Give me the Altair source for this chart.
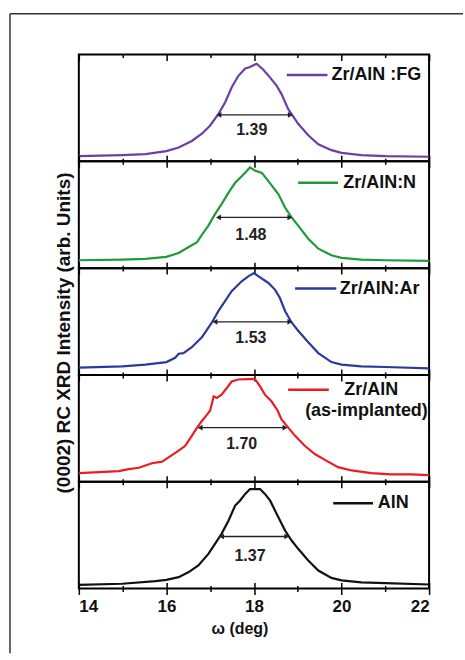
import altair as alt
import pandas as pd

# ---------------- data ----------------
SAMPLES = ["Zr/AlN :FG", "Zr/AlN:N", "Zr/AlN:Ar", "Zr/AlN (as-implanted)", "AlN"]
COLORS = ["#6B3FA6", "#1F9A3C", "#2C3A9C", "#EC1C24", "#111111"]

OMEGA_FG = [14.00, 14.99, 15.52, 16.00, 16.28, 16.58, 16.81, 17.00, 17.19, 17.34, 17.49, 17.64, 17.80, 17.91,
            18.06, 18.21, 18.37, 18.52, 18.63, 18.78, 19.01, 19.24, 19.47, 19.77, 20.00, 20.45, 21.00, 22.00]
INT_FG = [4.9, 5.9, 6.8, 9.6, 13.0, 19.1, 25.9, 33.6, 44.4, 55.2, 69.1, 79.9, 87.0, 88.3,
          91.4, 86.1, 78.4, 70.7, 63.0, 49.1, 35.2, 24.4, 16.0, 10.5, 8.0, 5.9, 4.9, 4.3]

OMEGA_N = [14.00, 14.99, 15.52, 16.00, 16.28, 16.51, 16.70, 16.85, 16.96, 17.11, 17.26, 17.42, 17.57, 17.72, 17.83,
           17.91, 18.02, 18.18, 18.33, 18.56, 18.71, 18.86, 19.01, 19.24, 19.47, 19.77, 20.00, 20.45, 21.00, 22.00]
INT_N = [7.4, 8.0, 8.6, 10.5, 14.2, 19.8, 24.4, 33.6, 39.8, 50.6, 59.9, 70.7, 79.9, 86.1, 90.7,
         94.4, 91.4, 89.2, 81.5, 69.1, 56.8, 47.5, 39.8, 27.5, 18.2, 12.0, 9.6, 8.0, 7.4, 6.8]

OMEGA_AR = [14.00, 14.99, 15.52, 16.00, 16.20, 16.28, 16.39, 16.58, 16.81, 17.04, 17.19, 17.34, 17.49, 17.72, 17.87,
            18.00, 18.14, 18.33, 18.48, 18.59, 18.71, 18.86, 19.01, 19.24, 19.47, 19.77, 20.00, 20.45, 21.00, 22.00]
INT_AR = [6.8, 8.0, 9.6, 12.0, 16.0, 19.8, 20.4, 25.9, 35.2, 49.1, 59.9, 69.1, 78.4, 87.7, 92.3,
          95.4, 91.4, 86.1, 79.9, 72.2, 59.9, 49.1, 41.4, 30.6, 20.4, 12.0, 9.6, 8.0, 7.4, 6.2]

OMEGA_AI = [14.00, 14.46, 14.91, 15.14, 15.37, 15.67, 15.90, 16.05, 16.28, 16.43, 16.58, 16.70, 16.81, 16.92, 17.00,
            17.08, 17.15, 17.26, 17.38, 17.49, 17.64, 17.87, 18.02, 18.14, 18.25, 18.40, 18.54, 18.63, 18.75, 18.94,
            19.16, 19.39, 19.62, 19.92, 20.23, 20.68, 21.14, 21.59, 22.00]
INT_AI = [8.0, 9.0, 9.9, 11.7, 13.0, 17.3, 18.8, 22.8, 29.0, 33.6, 42.9, 50.6, 56.8, 62.3, 66.7,
          79.9, 78.4, 81.5, 87.7, 93.8, 95.7, 96.0, 96.3, 89.2, 81.5, 75.3, 66.7, 58.3, 52.2, 42.9,
          33.6, 25.9, 20.4, 13.6, 10.5, 8.0, 6.8, 6.8, 6.2]

OMEGA_ALN = [14.00, 14.99, 15.75, 16.00, 16.28, 16.51, 16.73, 16.96, 17.11, 17.26, 17.42, 17.57, 17.68, 17.80, 17.91,
             18.14, 18.25, 18.37, 18.52, 18.71, 18.86, 19.01, 19.24, 19.47, 19.77, 20.00, 20.45, 21.00, 22.00]
INT_ALN = [3.4, 4.4, 6.9, 8.1, 10.6, 15.3, 21.5, 32.4, 41.7, 51.1, 63.6, 77.6, 82.2, 88.5, 93.1,
           93.1, 88.5, 82.2, 69.8, 54.2, 44.9, 37.1, 26.2, 16.8, 9.9, 7.5, 5.6, 5.0, 3.7]

OMEGAS = [OMEGA_FG, OMEGA_N, OMEGA_AR, OMEGA_AI, OMEGA_ALN]
INTENSITIES = [INT_FG, INT_N, INT_AR, INT_AI, INT_ALN]

FWHM_LABELS = ["1.39", "1.48", "1.53", "1.70", "1.37"]
ARROW_LEFT = [17.20, 17.19, 17.11, 16.77, 17.26]
ARROW_RIGHT = [18.83, 18.82, 18.82, 18.71, 18.75]
ARROW_LEVEL = [43.5, 47.5, 49.7, 50.6, 48.6]
LABEL_OMEGA = [17.95, 17.93, 17.93, 17.72, 17.91]
LABEL_LEVEL = [29.6, 30.6, 34.6, 35.2, 30.8]

# legend placement (in panel data units)
LEG_X1 = [18.75, 19.01, 18.94, 18.78, 19.81]
LEG_X2 = [19.68, 19.92, 19.88, 19.71, 20.72]
LEG_Y = [80.9, 79.9, 80.9, 86.1, 79.8]
LEG_TEXT = [["Zr/AlN :FG"], ["Zr/AlN:N"], ["Zr/AlN:Ar"], ["Zr/AlN", "(as-implanted)"], ["AlN"]]
LEG_TX = [[19.77], [20.04], [19.96], [20.68, 20.57], [20.83]]
LEG_TY = [[80.9], [79.9], [80.9], [86.1, 66.0], [79.8]]
LEG_ALIGN = ["left", "left", "left", "center", "left"]

Y_TITLE = "(0002) RC XRD Intensity (arb. Units)"
X_TITLE = "ω (deg)"
TICKS = list(range(14, 23))

FONT = "Liberation Sans"
W, H = 351, 107

xscale = alt.Scale(domain=[14, 22], nice=False, zero=False)
yscale = alt.Scale(domain=[0, 100], nice=False, zero=False)

TICK_COND = {"condition": {"test": "datum.value % 2 === 0", "value": 6}, "value": 3}
TICK_COND_IN = {"condition": {"test": "datum.value % 2 === 0", "value": -6}, "value": -3}


def make_axis(orient, labels=False, title=None, inward=False):
    kw = dict(orient=orient, values=TICKS, domain=False, grid=False, tickColor="black",
              tickWidth=1.5, tickSize=TICK_COND_IN if inward else TICK_COND, labels=labels)
    if labels:
        kw.update(labelExpr="datum.value % 2 === 0 ? datum.label : ''", labelFont=FONT,
                  labelFontSize=17, labelFontWeight="bold", labelColor="#111", labelPadding=4)
    if title:
        kw.update(title=title, titleFont=FONT, titleFontSize=16, titleFontWeight="bold",
                  titleColor="#111", titlePadding=6, titleX=161)
    else:
        kw.update(title=None)
    return alt.Axis(**kw)


def panel(i):
    c = COLORS[i]
    last = i == len(SAMPLES) - 1
    curve = pd.DataFrame({"omega": OMEGAS[i], "intensity": INTENSITIES[i]})
    line = alt.Chart(curve).mark_line(color=c, strokeWidth=2.2).encode(
        x=alt.X("omega:Q", scale=xscale, axis=make_axis("bottom", labels=last, title=X_TITLE if last else None)),
        y=alt.Y("intensity:Q", scale=yscale, axis=None),
    )
    arrow = pd.DataFrame({"x1": [ARROW_LEFT[i]], "x2": [ARROW_RIGHT[i]], "y": [ARROW_LEVEL[i]]})
    rule = alt.Chart(arrow).mark_rule(color="#222", strokeWidth=1.4).encode(
        x=alt.X("x1:Q", scale=xscale, axis=make_axis("top", inward=(i == 0))),
        x2="x2:Q",
        y=alt.Y("y:Q", scale=yscale, axis=None),
    )
    heads = pd.DataFrame({"x": [ARROW_LEFT[i], ARROW_RIGHT[i]], "y": [ARROW_LEVEL[i]] * 2,
                          "s": ["triangle-left", "triangle-right"]})
    head = alt.Chart(heads).mark_point(filled=True, size=32, color="#222", opacity=1).encode(
        x=alt.X("x:Q", scale=xscale, axis=make_axis("bottom", inward=True) if last else None),
        y=alt.Y("y:Q", scale=yscale, axis=None),
        shape=alt.Shape("s:N", scale=alt.Scale(domain=["triangle-left", "triangle-right"],
                                                range=["triangle-left", "triangle-right"]), legend=None),
    )
    lab = pd.DataFrame({"x": [LABEL_OMEGA[i]], "y": [LABEL_LEVEL[i]], "t": [FWHM_LABELS[i]]})
    label = alt.Chart(lab).mark_text(font=FONT, fontSize=16, fontWeight="bold", color="#222").encode(
        x=alt.X("x:Q", scale=xscale, axis=None),
        y=alt.Y("y:Q", scale=yscale, axis=None),
        text="t:N",
    )
    leg = pd.DataFrame({"x1": [LEG_X1[i]], "x2": [LEG_X2[i]], "y": [LEG_Y[i]]})
    legrule = alt.Chart(leg).mark_rule(color=c, strokeWidth=2.6).encode(
        x=alt.X("x1:Q", scale=xscale, axis=None), x2="x2:Q",
        y=alt.Y("y:Q", scale=yscale, axis=None),
    )
    legt = pd.DataFrame({"x": LEG_TX[i], "y": LEG_TY[i], "t": LEG_TEXT[i]})
    legtext = alt.Chart(legt).mark_text(font=FONT, fontSize=18, fontWeight="bold", color="#111",
                                        align=LEG_ALIGN[i], baseline="middle").encode(
        x=alt.X("x:Q", scale=xscale, axis=None),
        y=alt.Y("y:Q", scale=yscale, axis=None),
        text="t:N",
    )
    layers = [line, rule, head, label, legrule, legtext]
    one = pd.DataFrame({"a": [0]})
    if i == 0:
        top = alt.Chart(one).mark_rule(color="#333", strokeWidth=1.5).encode(
            x=alt.value(-69), x2=alt.value(385), y=alt.value(-41))
        left = alt.Chart(one).mark_rule(color="#333", strokeWidth=1.5).encode(
            x=alt.value(-69), y=alt.value(-41), y2=alt.value(600))
        layers += [top, left]
    if i == 2:
        yt = alt.Chart(pd.DataFrame({"t": [Y_TITLE]})).mark_text(
            font=FONT, fontSize=19, fontWeight="bold", color="#111", angle=270,
            align="center", baseline="middle").encode(
            x=alt.value(-15), y=alt.value(65), text="t:N")
        layers.append(yt)
    return alt.layer(*layers).resolve_axis(x="independent").properties(width=W, height=H)


chart = alt.vconcat(*[panel(i) for i in range(len(SAMPLES))], spacing=0, bounds="flush").properties(
    padding={"left": 8, "top": 11, "right": 0, "bottom": 0}
).configure_view(stroke="black", strokeWidth=2)

chart.save("out.html", embed_options={"renderer": "svg", "actions": False})
